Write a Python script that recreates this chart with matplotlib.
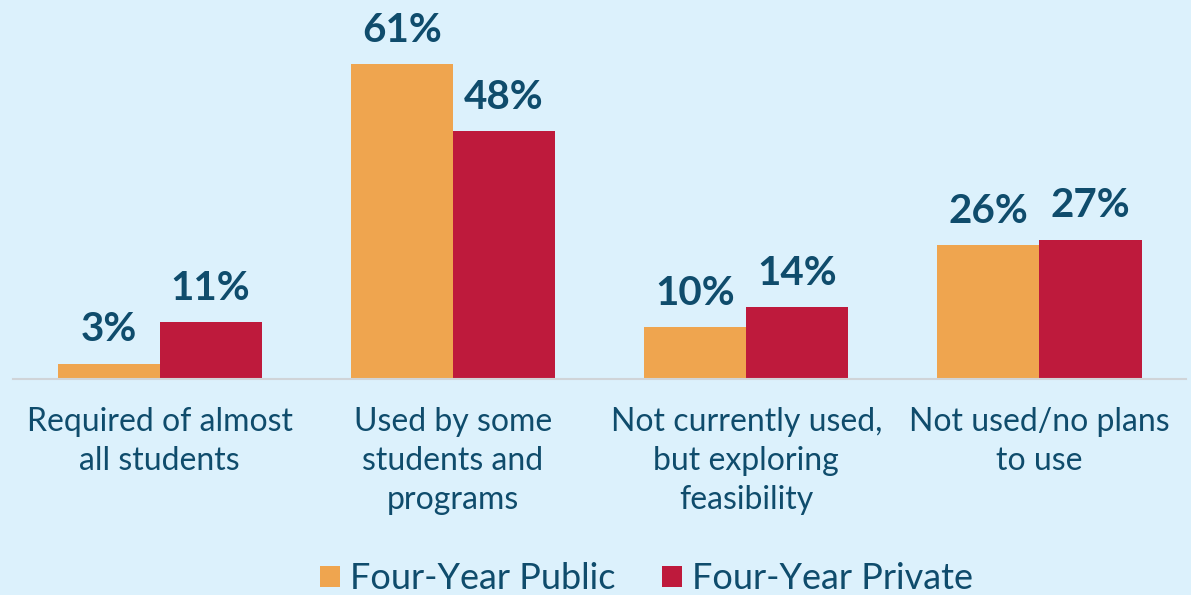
import matplotlib.pyplot as plt
import numpy as np

categories = ['Required of almost\nall students', 'Used by some\nstudents and\nprograms',
              'Not currently used,\nbut exploring\nfeasibility', 'Not used/no plans\nto use']
public = [3, 61, 10, 26]
private = [11, 48, 14, 27]
series_names = ['Four-Year Public', 'Four-Year Private']

BG = '#DCF1FC'
ORANGE = '#EFA54F'
RED = '#BE1A3C'
TEXT = '#0F4C6C'

plt.rcParams['font.family'] = ['Lato', 'DejaVu Sans']

fig = plt.figure(figsize=(11.91, 5.95), dpi=100, facecolor=BG)
ax = fig.add_axes([0.0109, 0.363, 0.985, 0.607], facecolor=BG)

x = np.arange(len(categories))
w = 0.348
b1 = ax.bar(x - w / 2, public, w, color=ORANGE, label=series_names[0])
b2 = ax.bar(x + w / 2, private, w, color=RED, label=series_names[1])

for bars in (b1, b2):
    for rect in bars:
        ax.annotate(f'{rect.get_height():.0f}%',
                    (rect.get_x() + rect.get_width() / 2, rect.get_height()),
                    xytext=(0, 11), textcoords='offset points',
                    ha='center', va='bottom', fontsize=29, fontweight='bold', color=TEXT)

ax.set_xlim(-0.5, 3.5)
ax.set_ylim(0, 70)
ax.set_yticks([])
ax.set_xticks(x)
ax.set_xticklabels(categories, fontsize=23, color=TEXT, linespacing=1.38)
ax.tick_params(axis='x', length=0, pad=20)
for s in ['top', 'right', 'left']:
    ax.spines[s].set_visible(False)
ax.spines['bottom'].set_color('#D0D4D8')
ax.spines['bottom'].set_linewidth(1.5)

leg = fig.legend(handles=[b1, b2], loc='lower center', bbox_to_anchor=(0.543, -0.055),
                 ncol=2, frameon=False, fontsize=26, handlelength=0.55, handleheight=0.55,
                 handletextpad=0.28, columnspacing=1.3)
for t in leg.get_texts():
    t.set_color(TEXT)

fig.savefig('out.png', dpi=100, facecolor=BG)
